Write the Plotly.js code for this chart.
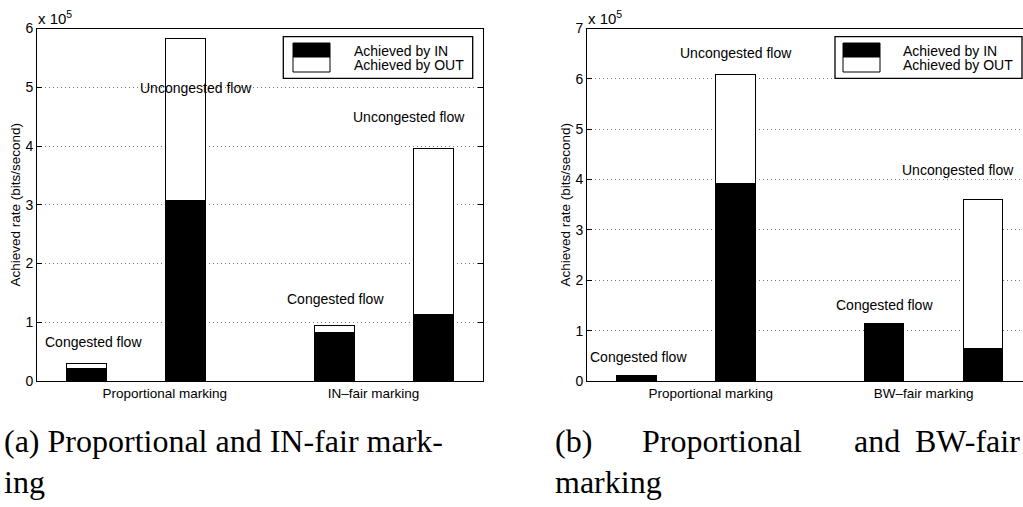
<!DOCTYPE html>
<html>
<head>
<meta charset="utf-8">
<script src="https://cdn.plot.ly/plotly-3.0.1.min.js"></script>
<style>
html, body { margin: 0; padding: 0; overflow: hidden; background: #fff; }
#chart { width: 1040px; height: 507px; }
</style>
</head>
<body>
<div id="chart"></div>
<script>
// ---- data (rates in units of 10^5 bits/second) ----
const slots = [1, 2, 3, 4, 5, 6, 7, 8];
const seriesNames = ["Achieved by IN", "Achieved by OUT"];
const leftIN   = [0.21, 0, 3.08, 0, 0, 0.83, 0, 1.14];
const leftOUT  = [0.09, 0, 2.75, 0, 0, 0.12, 0, 2.81];
const rightIN  = [0.10, 0, 3.93, 0, 0, 1.15, 0, 0.65];
const rightOUT = [0.00, 0, 2.15, 0, 0, 0.00, 0, 2.95];
const leftTickText  = ["Proportional marking", "IN\u2013fair marking"];
const rightTickText = ["Proportional marking", "BW\u2013fair marking"];
const leftYTicks  = [0, 1, 2, 3, 4, 5, 6];
const rightYTicks = [0, 1, 2, 3, 4, 5, 6, 7];
const flowLabels = ["Congested flow", "Uncongested flow"];
const yTitle = "Achieved rate (bits/second)";
const captionA = ["(a) Proportional and IN-fair mark-", "ing"];
const captionB = ["(b)", "Proportional", "and", "BW-fair", "marking"];

// ---- geometry helpers (pixels -> paper) ----
const W = 1040, H = 507;
const fx = p => p / W;
const fy = p => 1 - p / H;

const sans = "Liberation Sans, Arial, Helvetica, sans-serif";
const serif = "Liberation Serif, Times New Roman, serif";

function barTrace(y, fill, xa, ya, name) {
  return {
    type: "bar", x: slots, y: y, width: 0.8, name: name,
    xaxis: xa, yaxis: ya, showlegend: false, hoverinfo: "skip",
    marker: { color: fill, line: { color: "#000", width: 1 } }
  };
}

const data = [
  barTrace(leftIN, "#000", "x", "y", seriesNames[0]),
  barTrace(leftOUT, "#fff", "x", "y", seriesNames[1]),
  barTrace(rightIN, "#000", "x2", "y2", seriesNames[0]),
  barTrace(rightOUT, "#fff", "x2", "y2", seriesNames[1])
];

function xAxis(domain, anchor, tickvals, ticktext) {
  return {
    domain: domain, anchor: anchor, range: [0, 9],
    showline: true, mirror: true, linecolor: "#000", linewidth: 1,
    ticks: "", showgrid: false, zeroline: false,
    tickvals: tickvals, ticktext: ticktext,
    tickfont: { family: sans, size: 13.5, color: "#000" },
    fixedrange: true
  };
}
function yAxis(domain, anchor, range, ticks) {
  return {
    domain: domain, anchor: anchor, range: range,
    showline: true, mirror: "ticks", linecolor: "#000", linewidth: 1,
    ticks: "inside", ticklen: 5, tickcolor: "#000", tickwidth: 1,
    tickvals: ticks, ticktext: ticks.map(String),
    tickfont: { family: sans, size: 14, color: "#000" },
    showgrid: true, gridcolor: "#7a7a7a", griddash: "1px,3px", gridwidth: 1,
    zeroline: false, fixedrange: true,
    title: { text: yTitle, font: { family: sans, size: 13.5, color: "#000" }, standoff: 1 }
  };
}

const yDom = [fy(381), fy(28.5)];

const annotations = [];
function txt(x, y, text, opts) {
  annotations.push(Object.assign({
    x: x, y: y, text: text, showarrow: false,
    font: { family: sans, size: 14, color: "#000" },
    xanchor: "center", yanchor: "middle"
  }, opts || {}));
}

// flow labels (data coordinates)
txt(1.13, 0.67, flowLabels[0], { xref: "x", yref: "y" });
txt(3.2, 4.99, flowLabels[1], { xref: "x", yref: "y" });
txt(6.03, 1.40, flowLabels[0], { xref: "x", yref: "y" });
txt(7.5, 4.50, flowLabels[1], { xref: "x", yref: "y" });
txt(1.05, 0.48, flowLabels[0], { xref: "x2", yref: "y2" });
txt(3.0, 6.51, flowLabels[1], { xref: "x2", yref: "y2" });
txt(6.02, 1.50, flowLabels[0], { xref: "x2", yref: "y2" });
txt(7.5, 4.19, flowLabels[1], { xref: "x2", yref: "y2" });

// exponent labels
const expFont = { family: sans, size: 15, color: "#000" };
txt(fx(36), fy(18), "x 10<sup>5</sup>", { xref: "paper", yref: "paper", xanchor: "left", font: expFont });
txt(fx(586), fy(18), "x 10<sup>5</sup>", { xref: "paper", yref: "paper", xanchor: "left", font: expFont });

// legends
const shapes = [];
function legend(x0, x1, sx0, sx1, tx) {
  shapes.push({ type: "rect", xref: "paper", yref: "paper", x0: fx(x0), x1: fx(x1), y0: fy(78.3), y1: fy(36.7),
    line: { color: "#000", width: 1.3 }, fillcolor: "#fff", layer: "above" });
  shapes.push({ type: "rect", xref: "paper", yref: "paper", x0: fx(sx0), x1: fx(sx1), y0: fy(57), y1: fy(43),
    line: { color: "#000", width: 1 }, fillcolor: "#000", layer: "above" });
  shapes.push({ type: "rect", xref: "paper", yref: "paper", x0: fx(sx0), x1: fx(sx1), y0: fy(72), y1: fy(57),
    line: { color: "#000", width: 1 }, fillcolor: "#fff", layer: "above" });
  txt(fx(tx), fy(51), seriesNames[0], { xref: "paper", yref: "paper", xanchor: "left" });
  txt(fx(tx), fy(65), seriesNames[1], { xref: "paper", yref: "paper", xanchor: "left" });
}
legend(283.3, 472.7, 293, 330, 352);
legend(835, 1022, 843, 880, 901);

// captions
const capFont = { family: serif, size: 32, color: "#000" };
const cap1 = 441, cap2 = 482;
txt(fx(2), fy(cap1), captionA[0], { xref: "paper", yref: "paper", xanchor: "left", font: capFont });
txt(fx(2), fy(cap2), captionA[1], { xref: "paper", yref: "paper", xanchor: "left", font: capFont });
txt(fx(553), fy(cap1), captionB[0], { xref: "paper", yref: "paper", xanchor: "left", font: capFont });
txt(fx(722), fy(cap1), captionB[1], { xref: "paper", yref: "paper", xanchor: "center", font: capFont });
txt(fx(877), fy(cap1), captionB[2], { xref: "paper", yref: "paper", xanchor: "center", font: capFont });
txt(fx(1022), fy(cap1), captionB[3], { xref: "paper", yref: "paper", xanchor: "right", font: capFont });
txt(fx(553), fy(cap2), captionB[4], { xref: "paper", yref: "paper", xanchor: "left", font: capFont });

const layout = {
  width: W, height: H,
  margin: { l: 0, r: 0, t: 0, b: 0 },
  paper_bgcolor: "#fff", plot_bgcolor: "#fff",
  barmode: "stack",
  showlegend: false,
  xaxis: xAxis([fx(37), fx(483)], "y", [2.58, 6.79], leftTickText),
  yaxis: yAxis(yDom, "x", [0, 6], leftYTicks),
  xaxis2: xAxis([fx(587), fx(1032.5)], "y2", [2.5, 6.8], rightTickText),
  yaxis2: yAxis(yDom, "x2", [0, 7], rightYTicks),
  annotations: annotations,
  shapes: shapes
};

Plotly.newPlot("chart", data, layout, { staticPlot: true, displayModeBar: false });
</script>
</body>
</html>
